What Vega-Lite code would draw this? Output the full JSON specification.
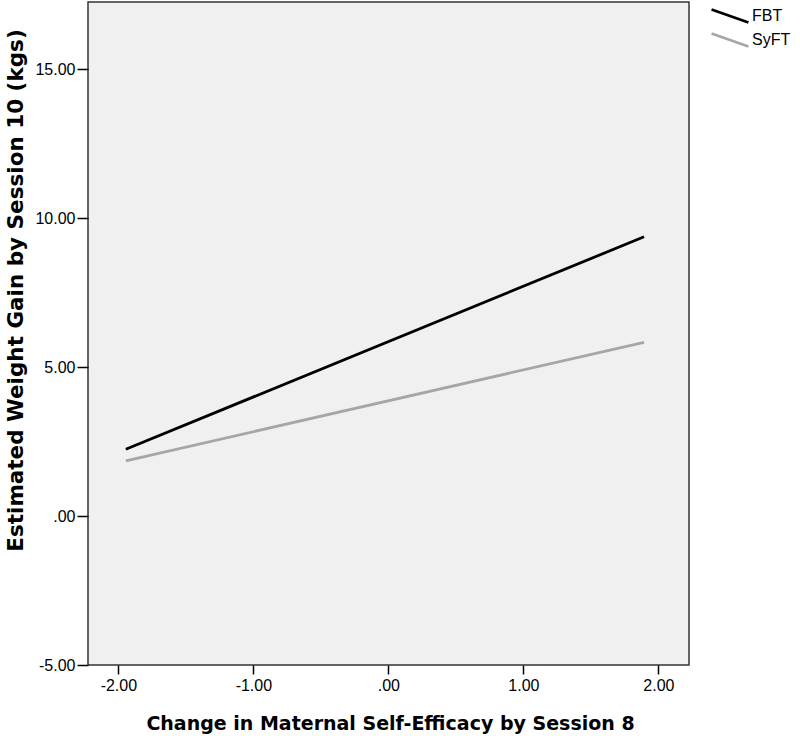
{
  "$schema": "https://vega.github.io/schema/vega-lite/v6.json",
  "autosize": "none",
  "width": 601,
  "height": 663,
  "padding": {"left": 88, "top": 2, "right": 111, "bottom": 71},
  "background": "white",
  "config": {
    "view": {"fill": "#f0f0f0", "stroke": "#333333", "strokeWidth": 1.5},
    "font": "Liberation Sans"
  },
  "data": {
    "values": [
      {"x": -1.945, "y": 2.24, "group": "FBT"},
      {"x": 1.894, "y": 9.37, "group": "FBT"},
      {"x": -1.945, "y": 1.85, "group": "SyFT"},
      {"x": 1.894, "y": 5.83, "group": "SyFT"}
    ]
  },
  "mark": {"type": "line", "strokeWidth": 2.8},
  "encoding": {
    "x": {
      "field": "x", "type": "quantitative",
      "scale": {"domain": [-2.225, 2.227], "nice": false, "zero": false},
      "axis": {
        "values": [-2, -1, 0, 1, 2],
        "labelExpr": "datum.value == 0 ? '.00' : (datum.value < 0 ? '-' : '') + format(abs(datum.value), '.2f')",
        "grid": false, "domain": false,
        "tickColor": "#000", "tickSize": 9, "tickWidth": 1.5,
        "labelFontSize": 16, "labelColor": "#000", "labelPadding": 3,
        "title": "Change in Maternal Self-Efficacy by Session 8",
        "titleFont": "DejaVu Sans", "titleFontSize": 19, "titleFontWeight": "bold", "titleColor": "#000",
        "titleX": 302, "titleY": 58, "titleBaseline": "middle", "titleAlign": "center"
      }
    },
    "y": {
      "field": "y", "type": "quantitative",
      "scale": {"domain": [-5, 17.25], "nice": false, "zero": false},
      "axis": {
        "values": [-5, 0, 5, 10, 15],
        "labelExpr": "datum.value == 0 ? '.00' : (datum.value < 0 ? '-' : '') + format(abs(datum.value), '.2f')",
        "grid": false, "domain": false,
        "tickColor": "#000", "tickSize": 11, "tickWidth": 1.5,
        "labelFontSize": 16, "labelColor": "#000", "labelPadding": 2,
        "title": "Estimated Weight Gain by Session 10 (kgs)",
        "titleFont": "DejaVu Sans", "titleFontSize": 21.5, "titleFontWeight": "bold", "titleColor": "#000",
        "titleX": -72, "titleY": 288, "titleBaseline": "middle", "titleAlign": "center", "titleAngle": -90
      }
    },
    "color": {
      "field": "group", "type": "nominal",
      "scale": {"domain": ["FBT", "SyFT"], "range": ["#000000", "#a6a6a6"]},
      "legend": {
        "title": null, "orient": "none", "legendX": 631, "legendY": 3,
        "symbolType": "M-2,-0.7L2,0.7", "symbolStrokeWidth": 2.8, "symbolSize": 340,
        "labelFontSize": 16, "labelColor": "#000", "labelOffset": 11, "rowPadding": -3
      }
    }
  }
}
